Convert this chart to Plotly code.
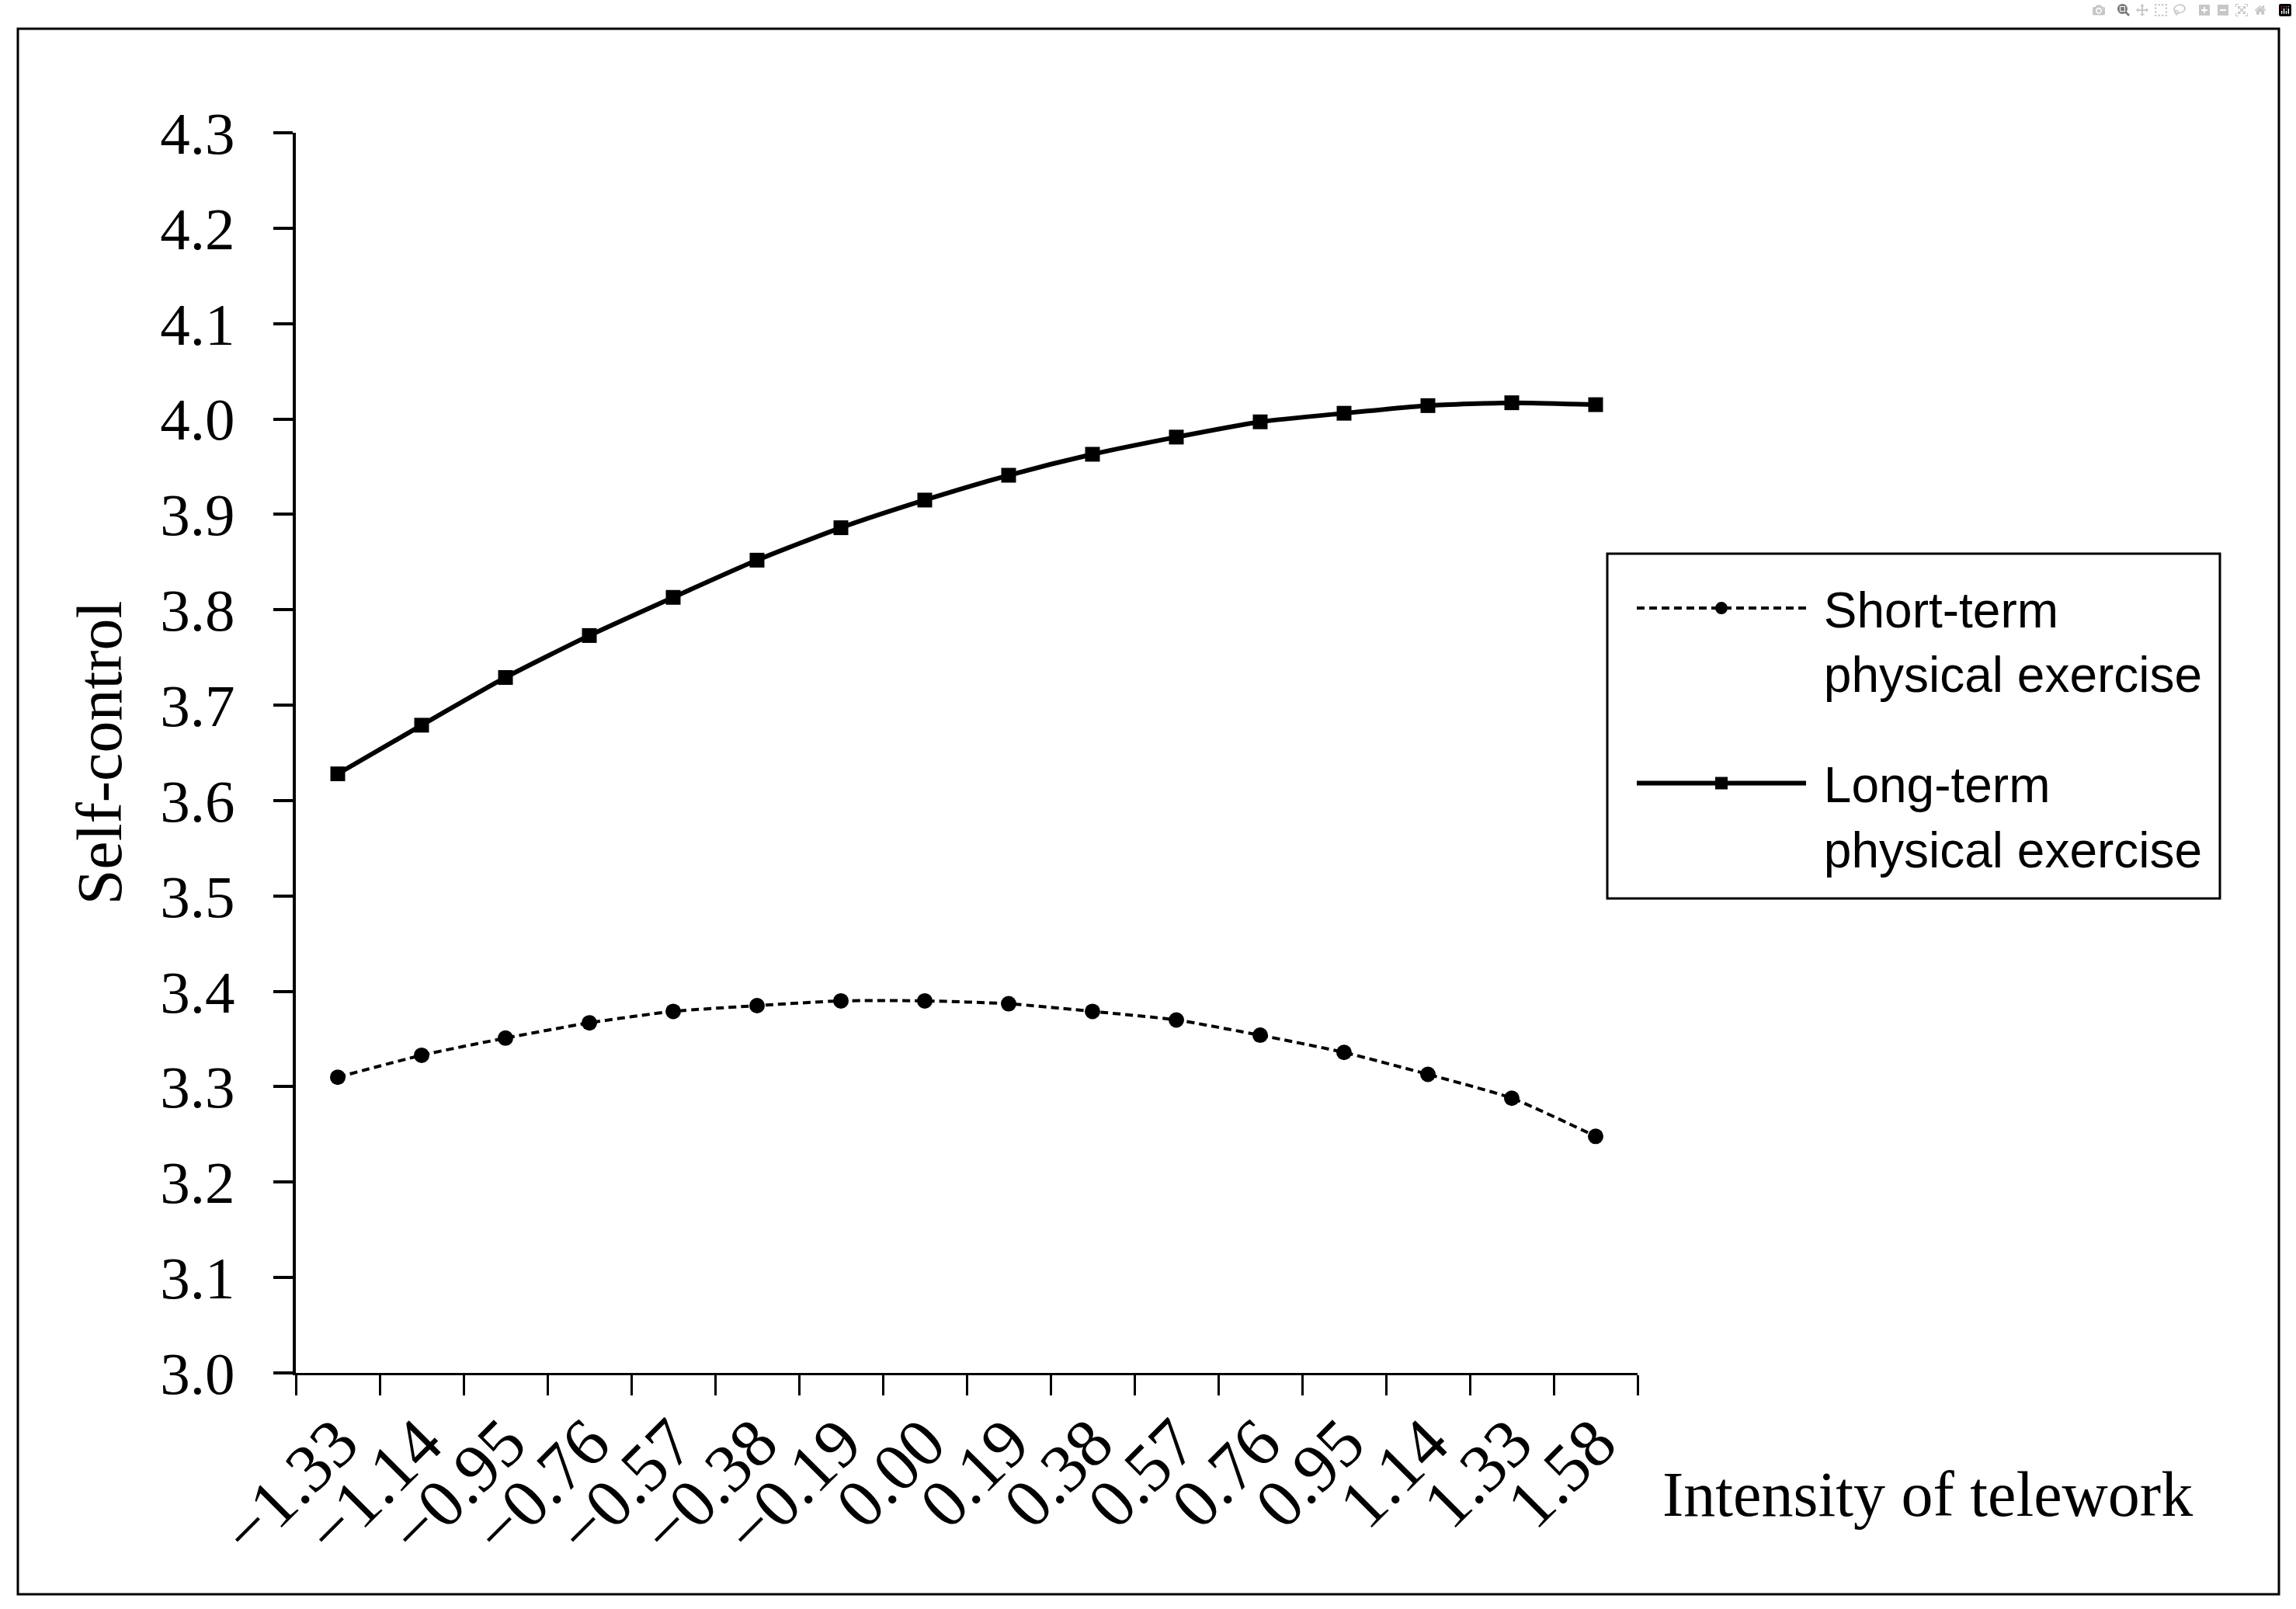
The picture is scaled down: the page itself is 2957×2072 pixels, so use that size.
import plotly.graph_objects as go

# ---- data ----
categories = ["−1.33", "−1.14", "−0.95", "−0.76", "−0.57", "−0.38", "−0.19", "0.00",
              "0.19", "0.38", "0.57", "0.76", "0.95", "1.14", "1.33", "1.58"]
short_term = [3.310, 3.333, 3.351, 3.367, 3.379, 3.385, 3.390, 3.390,
              3.387, 3.379, 3.370, 3.354, 3.336, 3.313, 3.288, 3.248]
long_term = [3.628, 3.679, 3.729, 3.773, 3.813, 3.852, 3.886, 3.915,
             3.941, 3.963, 3.981, 3.997, 4.006, 4.014, 4.017, 4.015]
y_ticks = [3.0, 3.1, 3.2, 3.3, 3.4, 3.5, 3.6, 3.7, 3.8, 3.9, 4.0, 4.1, 4.2, 4.3]
y_tick_labels = ["3.0", "3.1", "3.2", "3.3", "3.4", "3.5", "3.6", "3.7",
                 "3.8", "3.9", "4.0", "4.1", "4.2", "4.3"]
series_names = ["\u00a0Short-term<br>\u00a0physical exercise",
                "\u00a0Long-term<br>\u00a0physical exercise"]
x_title = "Intensity of telework"
y_title = "Self-control"

# ---- layout geometry (pixels) ----
W, H = 2957, 2072
L, R, T, B = 381, 2109, 171, 1768
pw, ph = R - L, B - T


def px(x):
    return (x - L) / pw


def py(y):
    return (B - y) / ph


SERIF = "Liberation Serif"
SANS = "Liberation Sans"

fig = go.Figure()
fig.add_trace(go.Scatter(
    x=categories, y=short_term, name=series_names[0], mode="lines+markers",
    legendgroup="a",
    line=dict(color="black", width=4, dash="10px,6px", shape="spline", smoothing=0.6),
    marker=dict(symbol="circle", size=20, color="black"),
))
fig.add_trace(go.Scatter(
    x=categories, y=long_term, name=series_names[1], mode="lines+markers",
    legendgroup="b",
    line=dict(color="black", width=6, shape="spline", smoothing=0.6),
    marker=dict(symbol="square", size=19, color="black"),
))

fig.update_layout(
    width=W, height=H, autosize=False,
    margin=dict(l=L, r=W - R, t=T, b=H - B, autoexpand=False),
    paper_bgcolor="white", plot_bgcolor="white",
    font=dict(family=SERIF, size=80, color="black"),
    showlegend=True,
    legend=dict(
        x=px(2103), y=py(735), xanchor="left", yanchor="top",
        borderwidth=0, bgcolor="rgba(0,0,0,0)",
        font=dict(family=SANS, size=64, color="black"),
        itemwidth=218, valign="top", tracegroupgap=56, traceorder="grouped",
    ),
    xaxis=dict(
        type="category", tickson="boundaries", ticks="outside", ticklen=26,
        tickwidth=3, tickcolor="black", showline=True, linecolor="black",
        linewidth=3, showgrid=False, zeroline=False, tickangle=-45,
        tickfont=dict(family=SERIF, size=88), range=[-0.5, 15.5],
    ),
    yaxis=dict(
        range=[3.0, 4.3], tickmode="array", tickvals=y_ticks, ticktext=y_tick_labels,
        ticks="outside", ticklen=25, tickwidth=4, tickcolor="black",
        showline=True, linecolor="black", linewidth=4, showgrid=False,
        zeroline=False, ticklabelstandoff=34,
        tickfont=dict(family=SERIF, size=77),
        title=dict(text=y_title, standoff=24, font=dict(family=SERIF, size=82)),
    ),
    shapes=[
        dict(type="rect", xref="paper", yref="paper",
             x0=px(23), x1=px(2935), y0=py(2053), y1=py(37),
             line=dict(color="black", width=3), layer="below"),
        dict(type="rect", xref="paper", yref="paper",
             x0=px(2070), x1=px(2859), y0=py(1157), y1=py(713),
             line=dict(color="black", width=3), layer="above"),
    ],
    annotations=[dict(text=x_title, xref="paper", yref="paper", x=px(2139), y=py(1924),
                      xanchor="left", yanchor="middle", showarrow=False,
                      font=dict(family=SERIF, size=82, color="black"))],
)

fig.write_html("out.html", post_script="document.body.style.margin='0';")
